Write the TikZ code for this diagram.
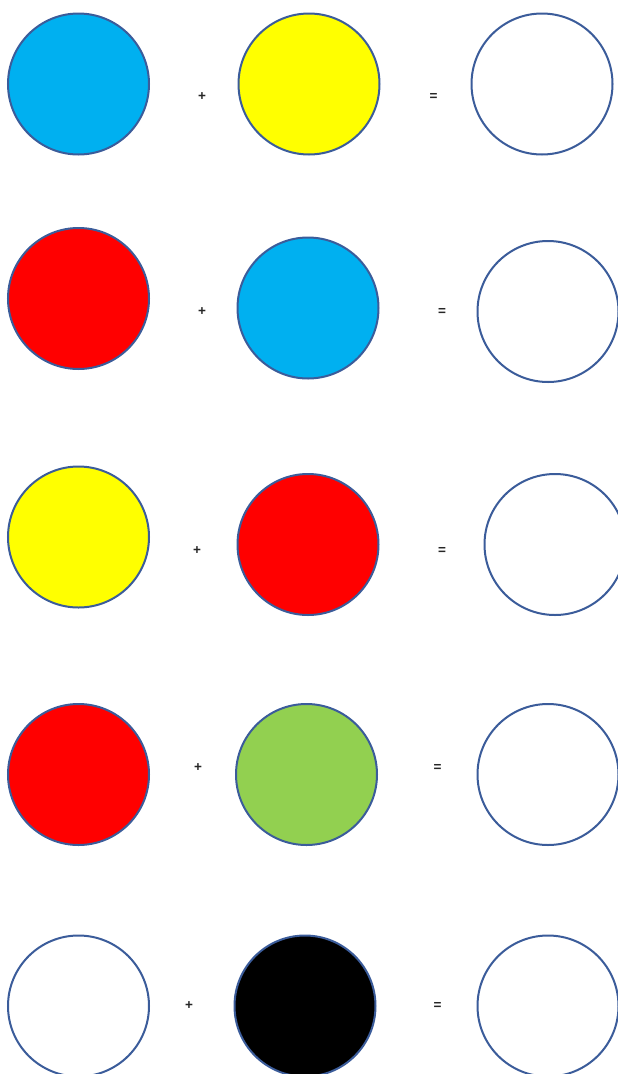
\documentclass[tikz,border=0pt]{standalone}
\usepackage{fontspec}
\setmainfont{Liberation Sans}
\usepackage{tikz}
\usetikzlibrary{positioning}

\definecolor{rim}{HTML}{3B5C9A}
\definecolor{paintcyan}{HTML}{00B0F0}
\definecolor{paintyellow}{HTML}{FFFF00}
\definecolor{paintred}{HTML}{FF0000}
\definecolor{paintgreen}{HTML}{92D050}

\begin{document}
\begin{tikzpicture}[
    x=1pt,y=-1pt,
    blob/.style={circle,draw=rim,line width=2pt,minimum size=141pt,inner sep=0pt},
    sign/.style={inner sep=0pt,text=black!85,font=\fontsize{13.5}{15}\selectfont\bfseries}]
  \useasboundingbox (0,0) rectangle (618,1074);
  % row 1
  \node[blob,fill=paintcyan] (left1) at (78.5,84) {};
  \node[sign] (plus1) at (202,97) {+};
  \node[blob,fill=paintyellow] (mid1) at (309,84) {};
  \node[sign] (eq1) at (433.5,97) {=};
  \node[blob,fill=white] (res1) at (542,84) {};
  % row 2
  \node[blob,fill=paintred] (left2) at (78.5,298.5) {};
  \node[sign] (plus2) at (202,312) {+};
  \node[blob,fill=paintcyan] (mid2) at (308,308) {};
  \node[sign] (eq2) at (442,312) {=};
  \node[blob,fill=white] (res2) at (548,311.5) {};
  % row 3
  \node[blob,fill=paintyellow] (left3) at (78.5,537) {};
  \node[sign] (plus3) at (197,550.5) {+};
  \node[blob,fill=paintred] (mid3) at (308,544.5) {};
  \node[sign] (eq3) at (442,550.5) {=};
  \node[blob,fill=white] (res3) at (555,544.5) {};
  % row 4
  \node[blob,fill=paintred] (left4) at (78.5,774.5) {};
  \node[sign] (plus4) at (198,767.5) {+};
  \node[blob,fill=paintgreen] (mid4) at (306.5,774.5) {};
  \node[sign] (eq4) at (437.5,767.5) {=};
  \node[blob,fill=white] (res4) at (548,774.5) {};
  % row 5
  \node[blob,fill=white] (left5) at (78.5,1006) {};
  \node[sign] (plus5) at (189,1005.5) {+};
  \node[blob,fill=black] (mid5) at (305,1006) {};
  \node[sign] (eq5) at (437.5,1005.5) {=};
  \node[blob,fill=white] (res5) at (548,1006) {};
\end{tikzpicture}
\end{document}
